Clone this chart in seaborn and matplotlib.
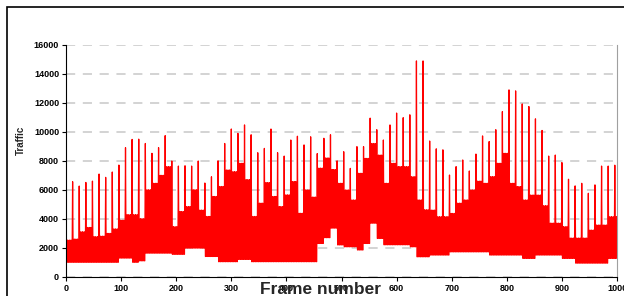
import pandas as pd
import seaborn as sns
import matplotlib.pyplot as plt
from matplotlib.patches import Rectangle

# Per-GOP (12 frames) sizes: I-frame spikes, P-frame level, B-frame level
i_frames = [6280, 6560, 6260, 6510, 6600, 7090, 6860, 7230, 7710, 8910,
            9480, 9500, 9200, 8520, 8910, 9740, 7990, 7640, 7660, 7640,
            7990, 6470, 6900, 8000, 9200, 10200, 9900, 10480, 9800, 8560,
            8860, 10200, 8560, 8330, 9440, 9700, 9100, 9660, 8500, 9560,
            9800, 8000, 8630, 7480, 8980, 8980, 10950, 10150, 9440, 10480,
            11300, 10980, 11180, 14900, 14900, 9370, 8830, 8760, 7020, 7600,
            8060, 7300, 8470, 9720, 9330, 10150, 11400, 12900, 12830, 11930,
            11750, 10900, 10100, 8330, 8400, 7880, 6730, 6270, 6450, 5760,
            6340, 7640, 7640, 7700]
p_frames = [2530, 2600, 3100, 3400, 2760, 2800, 2990, 3300, 3900, 4280,
            4280, 4000, 6000, 6450, 7000, 7600, 3450, 4500, 4840, 6000,
            4600, 4160, 5540, 6230, 7370, 7250, 7830, 6700, 4160, 5080,
            6500, 5540, 4840, 5650, 6570, 4380, 5990, 5500, 7500, 8200,
            7400, 6450, 5990, 5300, 7140, 8170, 9200, 8400, 6450, 7830,
            7600, 7600, 6900, 5300, 4620, 4600, 4140, 4140, 4370, 5080,
            5300, 5990, 6600, 6450, 6910, 7830, 8520, 6450, 6220, 5300,
            5640, 5640, 4900, 3700, 3700, 3450, 2670, 2670, 2670, 3220,
            3570, 3570, 4140, 4140]
b_frames = [1000, 1000, 1000, 1000, 1000, 1000, 1000, 1000, 1290, 1290,
            1000, 1100, 1630, 1630, 1630, 1630, 1550, 1550, 1980, 1980,
            1980, 1400, 1400, 1040, 1040, 1040, 1200, 1200, 1040, 1040,
            1040, 1040, 1040, 1040, 1040, 1040, 1040, 1040, 2300, 2700,
            3360, 2200, 2070, 2070, 1850, 2300, 3700, 2650, 2210, 2210,
            2210, 2210, 2070, 1380, 1380, 1500, 1500, 1500, 1720, 1720,
            1720, 1720, 1720, 1720, 1500, 1500, 1500, 1500, 1500, 1270,
            1270, 1500, 1500, 1500, 1500, 1270, 1270, 940, 940, 940,
            940, 940, 1270, 1270]
gop_pattern = ["I", "B", "B", "P", "B", "B", "P", "B", "B", "P", "B", "B"]

levels = {"I": i_frames, "P": p_frames, "B": b_frames}
rows = []
for frame in range(1001):
    kind = gop_pattern[frame % 12]
    rows.append((frame, levels[kind][frame // 12]))
df = pd.DataFrame(rows, columns=["frame", "traffic"])

sns.set_style("white")
plt.rcParams["font.family"] = ["Liberation Sans", "DejaVu Sans"]

fig = plt.figure(figsize=(6.24, 2.96), dpi=100)
ax = fig.add_axes([66 / 624, 1 - 276.7 / 296, 551 / 624, 231.7 / 296])
sns.lineplot(data=df, x="frame", y="traffic", color="#ff0000", linewidth=0.9, ax=ax)

ax.set_xlim(0, 1000)
ax.set_ylim(0, 16000)
ax.set_xticks(range(0, 1001, 100))
ax.set_yticks(range(0, 16001, 2000))
ax.yaxis.grid(True, color="#c8c8c8", linestyle=(0, (6, 5)), linewidth=1.1)
ax.set_axisbelow(True)
ax.spines["top"].set_visible(False)
ax.spines["right"].set_color("#a0a0a0")
ax.spines["left"].set_color("black")
ax.spines["bottom"].set_color("black")
ax.tick_params(axis="both", direction="out", length=3, width=0.8, pad=2,
               labelsize=6.5, colors="black", left=True, bottom=True)
for lab in ax.get_xticklabels() + ax.get_yticklabels():
    lab.set_fontweight("bold")
ax.set_xlabel("")
ax.set_ylabel("")

fig.text(0.034, 0.527, "Traffic", rotation=90, fontweight="bold", fontsize=7,
         ha="center", va="center")
fig.text(0.514, 1 - 282 / 296, "Frame number", fontweight="bold", fontsize=12.5,
         ha="center", va="top")

fig.add_artist(Rectangle((7 / 624, -0.1), 1.1, 1 - 7 / 296 + 0.1,
                         transform=fig.transFigure, fill=False,
                         edgecolor="black", linewidth=1.2))

fig.savefig("out.png", dpi=100)
